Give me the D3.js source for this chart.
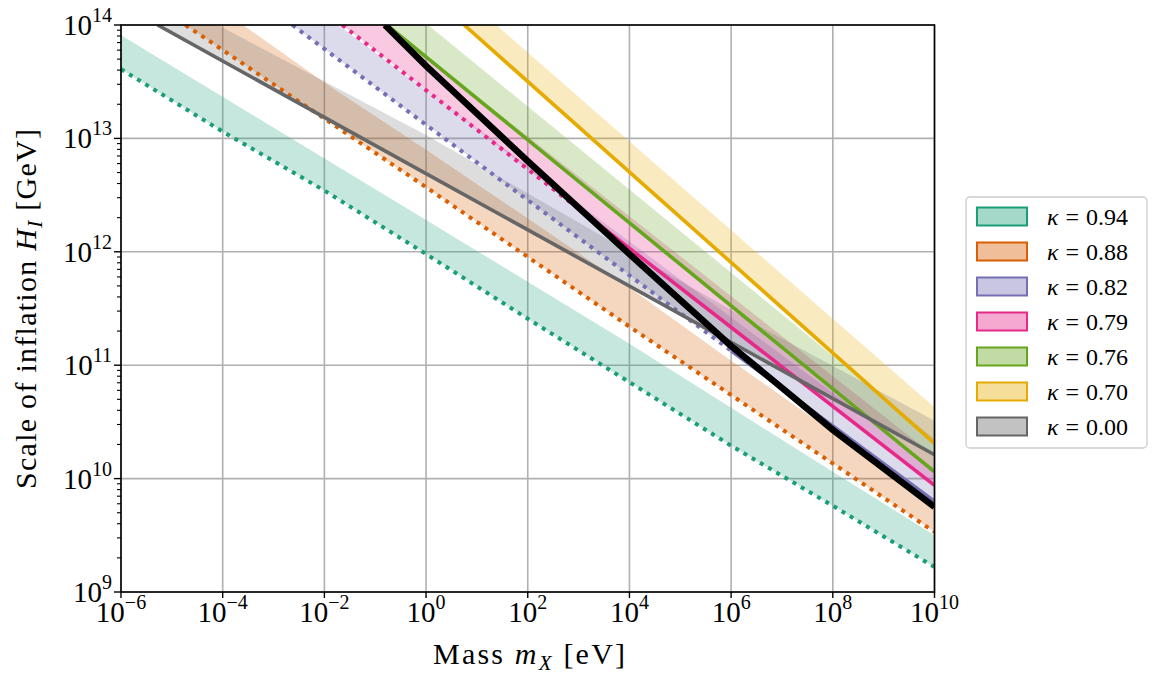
<!DOCTYPE html>
<html>
<head>
<meta charset="utf-8">
<script src="https://cdn.jsdelivr.net/npm/d3@7/dist/d3.min.js"></script>
<style>
body { margin: 0; background: #fff; }
text { font-family: "Liberation Serif", "DejaVu Serif", serif; fill: #000; }
</style>
</head>
<body>
<script>

var width = 1163,
	height = 689;

var plotLeft = 121, plotRight = 934.5, plotTop = 25, plotBottom = 592;

// values are [log10 m_X / eV, log10 H_I / GeV]
var kappas = ['0.94', '0.88', '0.82', '0.79', '0.76', '0.70', '0.00'];
var colors = ['#1b9e77', '#d95f02', '#7570b3', '#e7298a', '#66a61e', '#e6ab02', '#666666'];

var line_094 = [[-6, 13.61], [-4, 13.06], [-2, 12.54], [0, 11.98], [2, 11.41], [4, 10.85], [6, 10.29], [8, 9.76], [10, 9.22]];
var band_094 = [[-6, 13.91], [0, 12.28], [4, 11.19], [8, 10.06], [10, 9.50]];

var line_088 = [[-4.73, 14], [0, 12.57], [4, 11.34], [10, 9.53]];
var band_088 = [[-3.60, 14], [-1.93, 13.47], [0, 12.90], [1.85, 12.34], [4.01, 11.68], [5.78, 11.11], [8.0, 10.41], [10, 9.74]];

var line_082 = [[-2.63, 14], [0, 13.12], [10, 9.80]];
var band_082 = [[-1.73, 14], [10, 10.09]];

var line_079 = [[-1.65, 14], [10, 9.94]];
var band_079 = [[-0.79, 14], [10, 10.20]];

var line_076 = [[-0.77, 14], [10, 10.06]];
var band_076 = [[0.04, 14], [10, 10.35]];

var line_070 = [[0.75, 14], [10, 10.31]];
var band_070 = [[1.38, 14], [6.82, 11.87], [10, 10.63]];

var line_000 = [[-5.28, 14], [0, 12.69], [10, 10.21]];
var band_000 = [[-6, 14.45], [0, 13.03], [6.57, 11.34], [10, 10.51]];

// log10 m_X where a dotted line turns solid
var solidFrom = [99, 99, 6.0, 3.03, -99, -99, -99];

var black_line = [[-0.81, 14], [0, 13.64], [2, 12.80], [4, 11.98], [6, 11.17], [8, 10.43], [10, 9.75]];

var lines = [line_094, line_088, line_082, line_079, line_076, line_070, line_000];
var bands = [band_094, band_088, band_082, band_079, band_076, band_070, band_000];

var xTicks = [-6, -4, -2, 0, 2, 4, 6, 8, 10];
var yTicks = [9, 10, 11, 12, 13, 14];


var svg = d3.select('body').append('svg')
			.attr('width', width)
			.attr('height', height)

var x = d3.scaleLog()
			.domain([1e-6, 1e10])
			.range([plotLeft, plotRight]);

var y = d3.scaleLog()
			.domain([1e9, 1e14])
			.range([plotBottom, plotTop]);

function px(d){ return x(Math.pow(10, d[0])); }
function py(d){ return y(Math.pow(10, d[1])); }

var lineGen = d3.line().x(px).y(py);

svg.append('clipPath').attr('id', 'clip')
	.append('rect')
	.attr('x', plotLeft).attr('y', plotTop)
	.attr('width', plotRight - plotLeft).attr('height', plotBottom - plotTop);

// grid
var grid = svg.append('g');
xTicks.forEach(function(t){
	grid.append('line')
		.attr('x1', x(Math.pow(10, t))).attr('x2', x(Math.pow(10, t)))
		.attr('y1', plotTop).attr('y2', plotBottom)
		.attr('stroke', '#b0b0b0').attr('stroke-width', 1.6);
});
yTicks.forEach(function(t){
	grid.append('line')
		.attr('x1', plotLeft).attr('x2', plotRight)
		.attr('y1', y(Math.pow(10, t))).attr('y2', y(Math.pow(10, t)))
		.attr('stroke', '#b0b0b0').attr('stroke-width', 1.6);
});

var plot = svg.append('g').attr('clip-path', 'url(#clip)');

// bands: between the line and its upper edge
bands.forEach(function(b, i){
	var poly = lines[i].concat(b.slice().reverse());
	plot.append('path')
		.attr('d', lineGen(poly) + 'Z')
		.attr('fill', colors[i])
		.attr('fill-opacity', i == 6 ? 0.22 : 0.25)
		.attr('stroke', 'none');
});

// split a polyline at a given log-mass
function splitAt(pts, xs){
	var before = [], after = [];
	for (var k = 0; k < pts.length; k++){
		if (pts[k][0] <= xs) before.push(pts[k]);
		else after.push(pts[k]);
	}
	if (before.length && after.length){
		var a = before[before.length - 1], b = after[0];
		var f = (xs - a[0]) / (b[0] - a[0]);
		var mid = [xs, a[1] + f * (b[1] - a[1])];
		before.push(mid);
		after.unshift(mid);
	}
	return [before, after];
}

lines.forEach(function(l, i){
	var parts = splitAt(l, solidFrom[i]);
	if (parts[0].length > 1){
		plot.append('path')
			.attr('d', lineGen(parts[0]))
			.attr('fill', 'none')
			.attr('stroke', colors[i])
			.attr('stroke-width', 4)
			.attr('stroke-dasharray', '4 5.5');
	}
	if (parts[1].length > 1){
		plot.append('path')
			.attr('d', lineGen(parts[1]))
			.attr('fill', 'none')
			.attr('stroke', colors[i])
			.attr('stroke-width', 3.6);
	}
});

plot.append('path')
	.attr('d', lineGen(black_line))
	.attr('fill', 'none')
	.attr('stroke', '#000')
	.attr('stroke-width', 6.5);

// frame
svg.append('rect')
	.attr('x', plotLeft).attr('y', plotTop)
	.attr('width', plotRight - plotLeft).attr('height', plotBottom - plotTop)
	.attr('fill', 'none').attr('stroke', '#000').attr('stroke-width', 1.6);

// x ticks and labels
xTicks.forEach(function(t){
	var xx = x(Math.pow(10, t));
	svg.append('line')
		.attr('x1', xx).attr('x2', xx)
		.attr('y1', plotBottom).attr('y2', plotBottom + 6)
		.attr('stroke', '#000').attr('stroke-width', 1.4);
	var lab = svg.append('text')
		.attr('x', xx).attr('y', plotBottom + 30)
		.attr('text-anchor', 'middle')
		.style('font-size', '29px');
	lab.append('tspan').text('10');
	lab.append('tspan').attr('dy', -13).style('font-size', '20px')
		.text(t < 0 ? '\u2212' + (-t) : String(t));
});

// y ticks, minor ticks and labels
yTicks.forEach(function(t){
	var yy = y(Math.pow(10, t));
	svg.append('line')
		.attr('x1', plotLeft - 7).attr('x2', plotLeft)
		.attr('y1', yy).attr('y2', yy)
		.attr('stroke', '#000').attr('stroke-width', 1.4);
	var lab = svg.append('text')
		.attr('x', plotLeft - 9).attr('y', yy + 10)
		.attr('text-anchor', 'end')
		.style('font-size', '29px');
	lab.append('tspan').text('10');
	lab.append('tspan').attr('dy', -13).style('font-size', '20px').text(String(t));
	if (t < 14){
		for (var k = 2; k <= 9; k++){
			var ym = y(k * Math.pow(10, t));
			svg.append('line')
				.attr('x1', plotLeft - 4).attr('x2', plotLeft)
				.attr('y1', ym).attr('y2', ym)
				.attr('stroke', '#000').attr('stroke-width', 1.1);
		}
	}
});

// axis titles
var xt = svg.append('text')
	.attr('x', 529).attr('y', 664)
	.attr('text-anchor', 'middle')
	.style('font-size', '30px')
	.attr('textLength', 192);
xt.append('tspan').text('Mass ');
xt.append('tspan').style('font-style', 'italic').text('m');
xt.append('tspan').attr('dy', 6).style('font-size', '21px').style('font-style', 'italic').text('X');
xt.append('tspan').attr('dy', -6).text(' [eV]');

var yt = svg.append('text')
	.attr('transform', 'translate(36,309) rotate(-90)')
	.attr('text-anchor', 'middle')
	.style('font-size', '30px')
	.attr('textLength', 360);
yt.append('tspan').text('Scale of inflation ');
yt.append('tspan').style('font-style', 'italic').text('H');
yt.append('tspan').attr('dy', 6).style('font-size', '21px').style('font-style', 'italic').text('I');
yt.append('tspan').attr('dy', -6).text(' [GeV]');

// legend
var legend = svg.append('g');
legend.append('rect')
	.attr('x', 966).attr('y', 197)
	.attr('width', 181).attr('height', 251)
	.attr('rx', 4)
	.attr('fill', '#fff').attr('stroke', '#cccccc').attr('stroke-width', 1.3);

kappas.forEach(function(k, i){
	var cy = 216.5 + 35 * i;
	legend.append('rect')
		.attr('x', 977).attr('y', cy - 9)
		.attr('width', 50).attr('height', 18)
		.attr('fill', colors[i]).attr('fill-opacity', 0.4)
		.attr('stroke', colors[i]).attr('stroke-width', 2);
	var t = legend.append('text')
		.attr('x', 1047).attr('y', cy + 8)
		.style('font-size', '24px');
	t.append('tspan').style('font-style', 'italic').text('\u03ba');
	t.append('tspan').attr('dx', 7).text('=');
	t.append('tspan').attr('dx', 7).text(k);
});

</script>
</body>
</html>
